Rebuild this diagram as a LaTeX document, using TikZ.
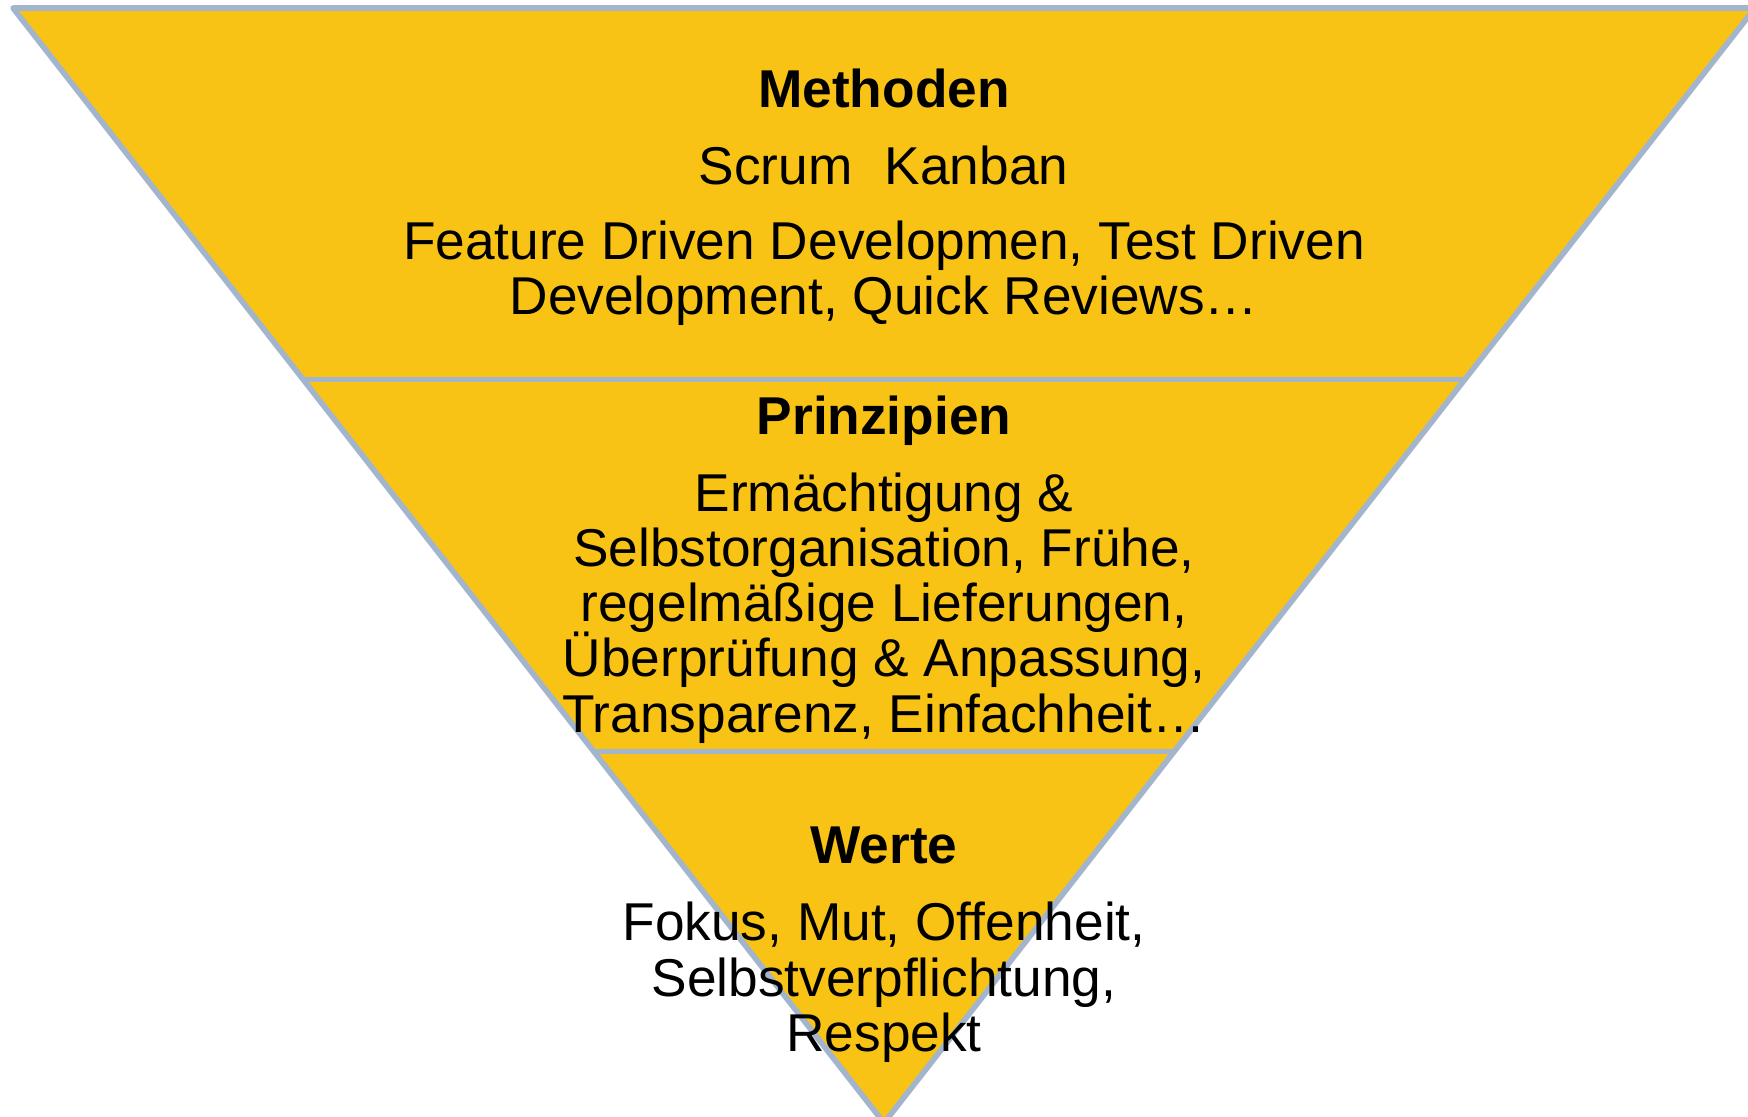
\documentclass[tikz,border=0pt]{standalone}
\usepackage{fontspec}
\setmainfont{Liberation Sans}
\usetikzlibrary{calc}
\definecolor{pyrfill}{HTML}{F9C315}
\definecolor{pyrline}{HTML}{A3B5CC}
\newcommand\pyrfont{\fontsize{15.15}{15.65}\selectfont\lineskiplimit=-10pt\relax}

\begin{document}
\begin{tikzpicture}[
	layer/.style={
		fill=pyrfill,
		draw=pyrline,
		line width=1.6pt,
		line join=round,
		},
	divider/.style={
		draw=pyrline,
		line width=1.6pt,
		},
	txt/.style={
		anchor=base,
		align=center,
		inner sep=0pt,
		font=\pyrfont,
		},
	head/.style={
		txt,
		font=\pyrfont\bfseries,
		}]

	\useasboundingbox (0,0) rectangle (17.48,11.16);

	\coordinate (tl) at (0.13,11.08);
	\coordinate (tr) at (17.55,11.08);
	\coordinate (apex) at (8.84,-0.07);
	\coordinate (d1l) at ($(tl)!1/3!(apex)$);
	\coordinate (d1r) at ($(tr)!1/3!(apex)$);
	\coordinate (d2l) at ($(tl)!2/3!(apex)$);
	\coordinate (d2r) at ($(tr)!2/3!(apex)$);

	\path[layer] (tl) -- (tr) -- (apex) -- cycle;
	\path[divider] (d1l) -- (d1r);
	\path[divider] (d2l) -- (d2r);

	\node(methoden)[head] at (8.84,10.09) {Methoden};
	\node(scrum)[txt] at (7.755,9.32) {Scrum};
	\node(kanban)[txt] at (9.765,9.32) {Kanban};
	\node(methlist)[txt] at (8.84,8.01) {Feature Driven Developmen, Test Driven\\Development, Quick Reviews…};

	\node(prinzipien)[head] at (8.84,6.81) {Prinzipien};
	\node(prinzlist)[txt] at (8.84,3.84) {Ermächtigung \&\\Selbstorganisation, Frühe,\\regelmäßige Lieferungen,\\Überprüfung \& Anpassung,\\Transparenz, Einfachheit…};

	\node(werte)[head] at (8.84,2.53) {Werte};
	\node(wertelist)[txt] at (8.84,0.65) {Fokus, Mut, Offenheit,\\Selbstverpflichtung,\\Respekt};

\end{tikzpicture}
\end{document}
